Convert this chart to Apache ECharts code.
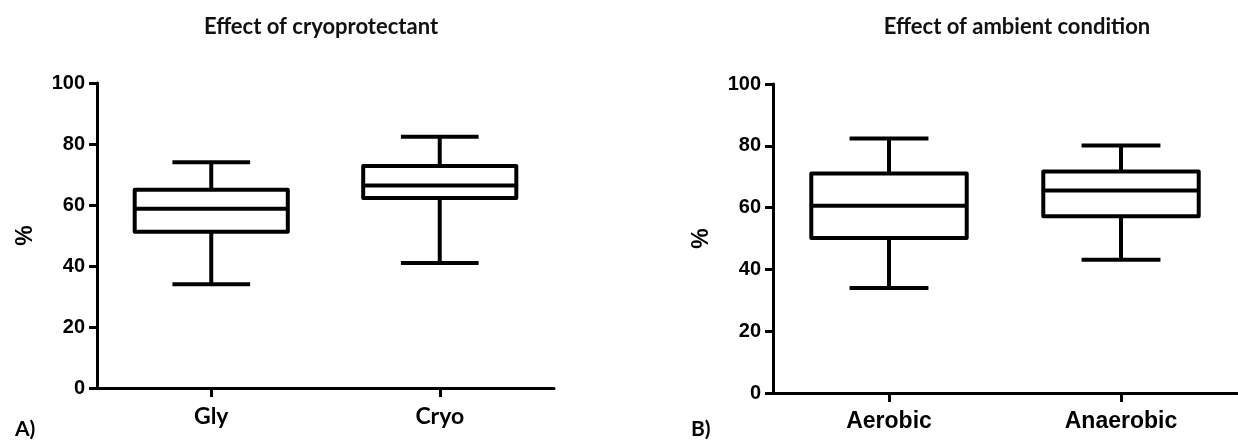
<!DOCTYPE html>
<html>
<head>
<meta charset="utf-8">
<script src="https://cdn.jsdelivr.net/npm/echarts@6/dist/echarts.min.js"></script>
<style>
  html, body { margin: 0; padding: 0; background: #fff; }
  #chart { width: 1238px; height: 441px; }
</style>
</head>
<body>
<div id="chart"></div>
<script>
// 图A：冷冻保护剂
var catsA = ['Gly', 'Cryo'];
// [min, Q1, median, Q3, max]
var gly = [34, 51.2, 58.8, 65, 74];
var cryo = [41, 62.3, 66.4, 72.8, 82.4];

// 图B：环境条件
var catsB = ['Aerobic', 'Anaerobic'];
var aerobic = [34, 50.2, 60.6, 71, 82.4];
var anaerobic = [43.1, 57.2, 65.5, 71.7, 80.1];

var yTicks = [0, 100, 20]; // min, max, interval

var lineW = 4;

// 箱线图（须端横线为箱宽一半）
function renderBox(params, api) {
    var x = api.value(0);
    var band = api.size([1, 0])[0];
    var half = band * 0.335;
    var cap = band * 0.17;
    var pMin = api.coord([x, api.value(1)]);
    var pQ1 = api.coord([x, api.value(2)]);
    var pMed = api.coord([x, api.value(3)]);
    var pQ3 = api.coord([x, api.value(4)]);
    var pMax = api.coord([x, api.value(5)]);
    var cx = pMed[0];
    var st = { stroke: '#000', lineWidth: lineW, fill: null, lineJoin: 'round' };
    return {
        type: 'group',
        children: [
            { type: 'rect', shape: { x: cx - half, y: pQ3[1], width: half * 2, height: pQ1[1] - pQ3[1] }, style: st },
            { type: 'line', shape: { x1: cx - half, y1: pMed[1], x2: cx + half, y2: pMed[1] }, style: st },
            { type: 'line', shape: { x1: cx, y1: pQ3[1], x2: cx, y2: pMax[1] }, style: st },
            { type: 'line', shape: { x1: cx, y1: pQ1[1], x2: cx, y2: pMin[1] }, style: st },
            { type: 'line', shape: { x1: cx - cap, y1: pMax[1], x2: cx + cap, y2: pMax[1] }, style: st },
            { type: 'line', shape: { x1: cx - cap, y1: pMin[1], x2: cx + cap, y2: pMin[1] }, style: st }
        ]
    };
}

function toRows(list) {
    return list.map(function (d, i) { return [i].concat(d); });
}

var axisLine = { show: true, lineStyle: { color: '#000', width: 3 } };
var axisTick = { show: true, length: 8, lineStyle: { color: '#000', width: 3 } };
var numLabel = { color: '#000', fontFamily: 'Liberation Sans', fontWeight: 'bold', fontSize: 20, margin: 12 };

function yAxisOf(gi) {
    return {
        type: 'value', gridIndex: gi,
        min: yTicks[0], max: yTicks[1], interval: yTicks[2],
        axisLine: axisLine, axisTick: axisTick, axisLabel: numLabel,
        splitLine: { show: false },
        name: '%', nameLocation: 'middle', nameRotate: 90, nameGap: 60,
        nameTextStyle: { color: '#000', fontFamily: 'Liberation Sans', fontWeight: 'bold', fontSize: 23 }
    };
}

function xAxisOf(gi, cats, font, size) {
    return {
        type: 'category', gridIndex: gi, data: cats,
        axisLine: axisLine,
        axisTick: { show: true, alignWithLabel: true, length: 9, lineStyle: { color: '#000', width: 3 } },
        axisLabel: { color: '#000', fontFamily: font, fontWeight: 'bold', fontSize: size, margin: 17 }
    };
}

var titleFont = { color: '#111', fontFamily: 'Lato', fontWeight: 'bold', fontSize: 22 };
var tagFont = { color: '#000', fontFamily: 'Lato', fontWeight: 'bold', fontSize: 21 };

var chart = echarts.init(document.getElementById('chart'));
chart.setOption({
    animation: false,
    backgroundColor: '#fff',
    title: [
        { text: 'Effect of cryoprotectant', left: 316, top: 11, textAlign: 'center', textStyle: titleFont },
        { text: 'Effect of ambient condition', left: 1012, top: 11, textAlign: 'center', textStyle: titleFont },
        { text: 'A)', left: 10, top: 414, textStyle: tagFont },
        { text: 'B)', left: 686, top: 414, textStyle: tagFont }
    ],
    grid: [
        { left: 97, right: 684, top: 83, bottom: 53 },
        { left: 773, right: 1, top: 84, bottom: 48 }
    ],
    xAxis: [xAxisOf(0, catsA, 'Lato', 23), xAxisOf(1, catsB, 'Liberation Sans', 23)],
    yAxis: [yAxisOf(0), yAxisOf(1)],
    series: [
        { type: 'custom', xAxisIndex: 0, yAxisIndex: 0, renderItem: renderBox, data: toRows([gly, cryo]) },
        { type: 'custom', xAxisIndex: 1, yAxisIndex: 1, renderItem: renderBox, data: toRows([aerobic, anaerobic]) }
    ]
});
</script>
</body>
</html>
